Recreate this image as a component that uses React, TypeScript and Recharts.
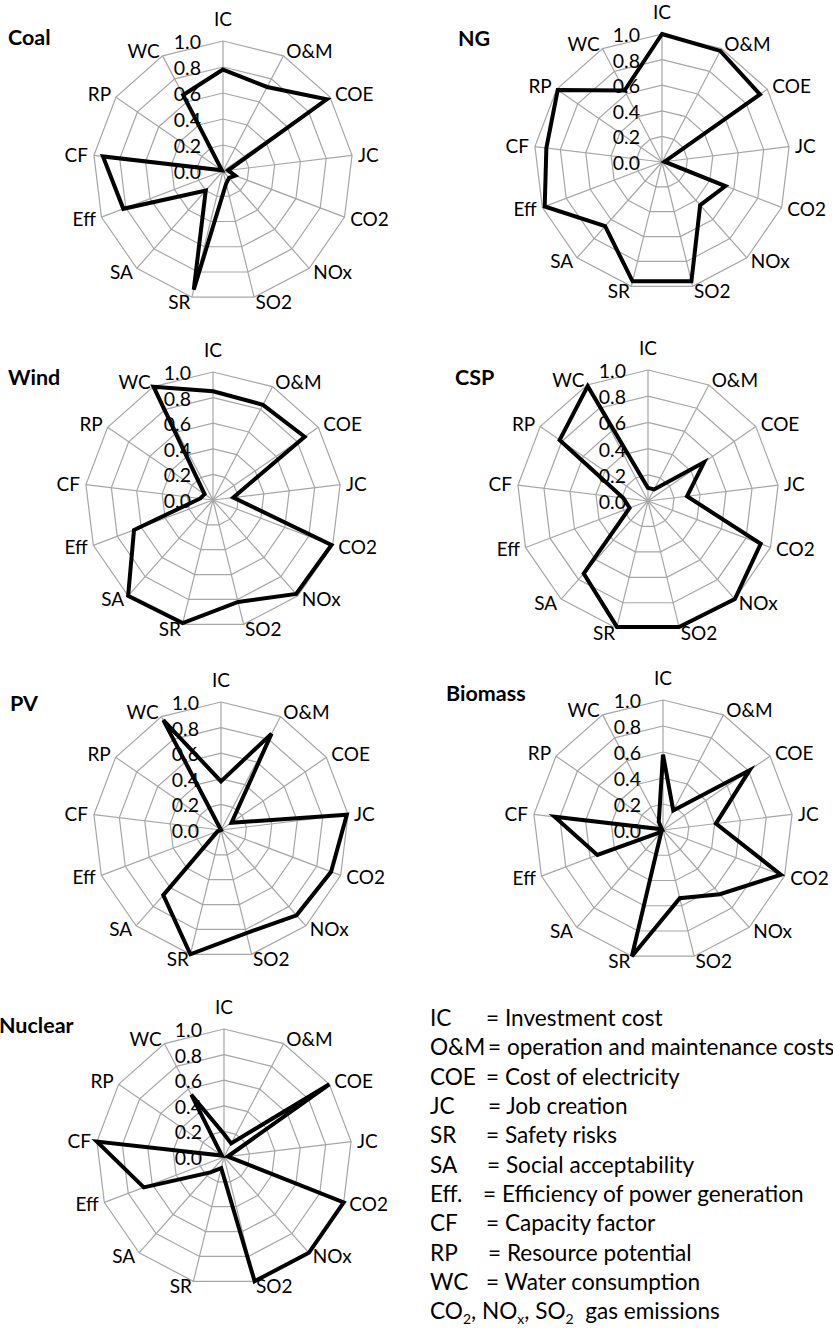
import React from 'react';
import { RadarChart, Radar, PolarGrid, PolarAngleAxis, PolarRadiusAxis } from 'recharts';

// ---------- data ----------
const categories = ['IC', 'O&M', 'COE', 'JC', 'CO2', 'NOx', 'SO2', 'SR', 'SA', 'Eff', 'CF', 'RP', 'WC'];
const radiusTicks = [0, 0.2, 0.4, 0.6, 0.8, 1.0];

const coal = [0.78, 0.73, 0.97, 0.04, 0.10, 0.07, 0.10, 0.94, 0.20, 0.82, 0.93, 0.01, 0.66];
const ng = [1.00, 0.98, 0.93, 0.02, 0.53, 0.45, 0.96, 0.96, 0.67, 0.98, 0.91, 0.99, 0.63];
const wind = [0.85, 0.84, 0.87, 0.16, 0.99, 0.98, 0.82, 0.99, 1.00, 0.66, 0.10, 0.08, 1.00];
const csp = [0.10, 0.10, 0.52, 0.30, 0.92, 1.00, 0.99, 0.99, 0.74, 0.15, 0.19, 0.82, 0.99];
const pv = [0.38, 0.85, 0.10, 0.99, 0.92, 0.89, 0.83, 1.00, 0.68, 0.03, 0.00, 0.00, 0.97];
const biomass = [0.58, 0.17, 0.81, 0.41, 0.97, 0.66, 0.54, 1.00, 0.02, 0.54, 0.84, 0.01, 0.07];
const nuclear = [0.18, 0.12, 1.00, 0.03, 1.00, 1.00, 1.00, 0.09, 0.16, 0.67, 1.00, 0.02, 0.55];

const seriesNames = ['Coal', 'NG', 'Wind', 'CSP', 'PV', 'Biomass', 'Nuclear'];
const seriesValues = [coal, ng, wind, csp, pv, biomass, nuclear];

const legendAbbr = ['IC', 'O&M', 'COE', 'JC', 'SR', 'SA', 'Eff.', 'CF', 'RP', 'WC'];
const legendDesc = [
  'Investment cost',
  'operation and maintenance costs',
  'Cost of electricity',
  'Job creation',
  'Safety risks',
  'Social acceptability',
  'Efficiency of power generation',
  'Capacity factor',
  'Resource potential',
  'Water consumption',
];

// table built for recharts
const tableData = categories.map((c, i) => {
  const row: any = { axis: c };
  seriesNames.forEach((n, k) => {
    row[n] = seriesValues[k][i];
  });
  return row;
});

// ---------- layout ----------
const FONT = 'Lato, "Open Sans", "DejaVu Sans", sans-serif';
const BOX_W = 440;
const BOX_H = 340;
const layout = [
  { cx: 223, cy: 171, r: 130, tx: 8, ty: 37 },
  { cx: 662, cy: 162, r: 128, tx: 458, ty: 38 },
  { cx: 213, cy: 500, r: 128, tx: 8, ty: 377 },
  { cx: 648, cy: 501, r: 131, tx: 455, ty: 377 },
  { cx: 221, cy: 830, r: 128, tx: 10, ty: 703 },
  { cx: 663, cy: 830, r: 130, tx: 446, ty: 693 },
  { cx: 224, cy: 1157, r: 128, tx: -1, ty: 1025 },
];
const eqX = [486, 488, 486, 488, 486, 487, 483, 486, 488, 486];
const legendX = 430;
const legendY0 = 1018;
const legendDy = 29.3;

const makeAngleTick = (cx: number, cy: number, R: number) => (props: any) => {
  const { x, y, payload } = props;
  const dx = x - cx;
  const dy = y - cy;
  const len = Math.hypot(dx, dy) || 1;
  const ux = dx / len;
  const uy = dy / len;
  const vx = cx + ux * R;
  const vy = cy + uy * R;
  let anchor: any;
  let tx: number;
  let ty: number;
  if (Math.abs(ux) < 0.05) {
    anchor = 'middle';
    tx = vx;
    ty = uy < 0 ? vy - 22 : vy + 22;
  } else {
    anchor = ux > 0 ? 'start' : 'end';
    tx = vx + ux * 6;
    ty = vy + uy * 5;
  }
  return (
    <text x={tx} y={ty} dy="0.36em" textAnchor={anchor} fontSize={19} fill="#000" fontFamily={FONT}>
      {payload.value}
    </text>
  );
};

const RadiusTick = (props: any) => {
  const { x, y, payload } = props;
  return (
    <text x={x - 22} y={y + 1} dy="0.36em" textAnchor="end" fontSize={19.5} fill="#000" fontFamily={FONT}>
      {Number(payload.value).toFixed(1)}
    </text>
  );
};

function OneRadar({ idx }: { idx: number }) {
  const L = layout[idx];
  const name = seriesNames[idx];
  const lcx = BOX_W / 2;
  const lcy = BOX_H / 2;
  return (
    <div style={{ position: 'absolute', left: L.cx - lcx, top: L.cy - lcy, width: BOX_W, height: BOX_H }}>
      <RadarChart
        width={BOX_W}
        height={BOX_H}
        data={tableData}
        cx={lcx}
        cy={lcy}
        outerRadius={L.r}
        margin={{ top: 0, right: 0, bottom: 0, left: 0 }}
      >
        <PolarGrid gridType="polygon" stroke="#a6a6a6" strokeWidth={1.2} />
        <PolarAngleAxis
          dataKey="axis"
          tick={makeAngleTick(lcx, lcy, L.r)}
          tickLine={false}
          axisLine={false}
        />
        <PolarRadiusAxis
          type="number"
          angle={90}
          domain={[0, 1]}
          ticks={radiusTicks as any}
          tickCount={6}
          axisLine={false}
          tickLine={false}
          tick={RadiusTick}
        />
        <Radar
          dataKey={name}
          stroke="#000"
          strokeWidth={4}
          fill="none"
          fillOpacity={0}
          dot={false}
          isAnimationActive={false}
        />
      </RadarChart>
    </div>
  );
}

export default function App() {
  return (
    <div
      style={{
        position: 'absolute',
        left: 0,
        top: 0,
        width: 833,
        height: 1333,
        overflow: 'hidden',
        background: '#fff',
        fontFamily: FONT,
      }}
    >
      {seriesNames.map((n, i) => (
        <OneRadar key={n} idx={i} />
      ))}
      <svg
        width={833}
        height={1333}
        style={{ position: 'absolute', left: 0, top: 0, pointerEvents: 'none' }}
      >
        {seriesNames.map((n, i) => (
          <text
            key={n}
            x={layout[i].tx}
            y={layout[i].ty}
            dy="0.36em"
            fontSize={21.5}
            fontWeight="bold"
            fill="#000"
            fontFamily={FONT}
          >
            {n}
          </text>
        ))}
        {legendAbbr.map((a, i) => (
          <g key={a}>
            <text x={legendX} y={legendY0 + i * legendDy} dy="0.36em" fontSize={22.6} fill="#000" fontFamily={FONT}>
              {a}
            </text>
            <text x={eqX[i]} y={legendY0 + i * legendDy} dy="0.36em" fontSize={22.6} fill="#000" fontFamily={FONT}>
              {'= ' + legendDesc[i]}
            </text>
          </g>
        ))}
        <text
          x={legendX}
          y={legendY0 + 10 * legendDy}
          dy="0.36em"
          fontSize={22.6}
          fill="#000"
          fontFamily={FONT}
        >
          CO<tspan fontSize={14} dy={5}>2</tspan>
          <tspan dy={-5}>, NO</tspan>
          <tspan fontSize={14} dy={5}>x</tspan>
          <tspan dy={-5}>, SO</tspan>
          <tspan fontSize={14} dy={5}>2</tspan>
          <tspan dy={-5}>{'\u00a0 gas emissions'}</tspan>
        </text>
      </svg>
    </div>
  );
}
